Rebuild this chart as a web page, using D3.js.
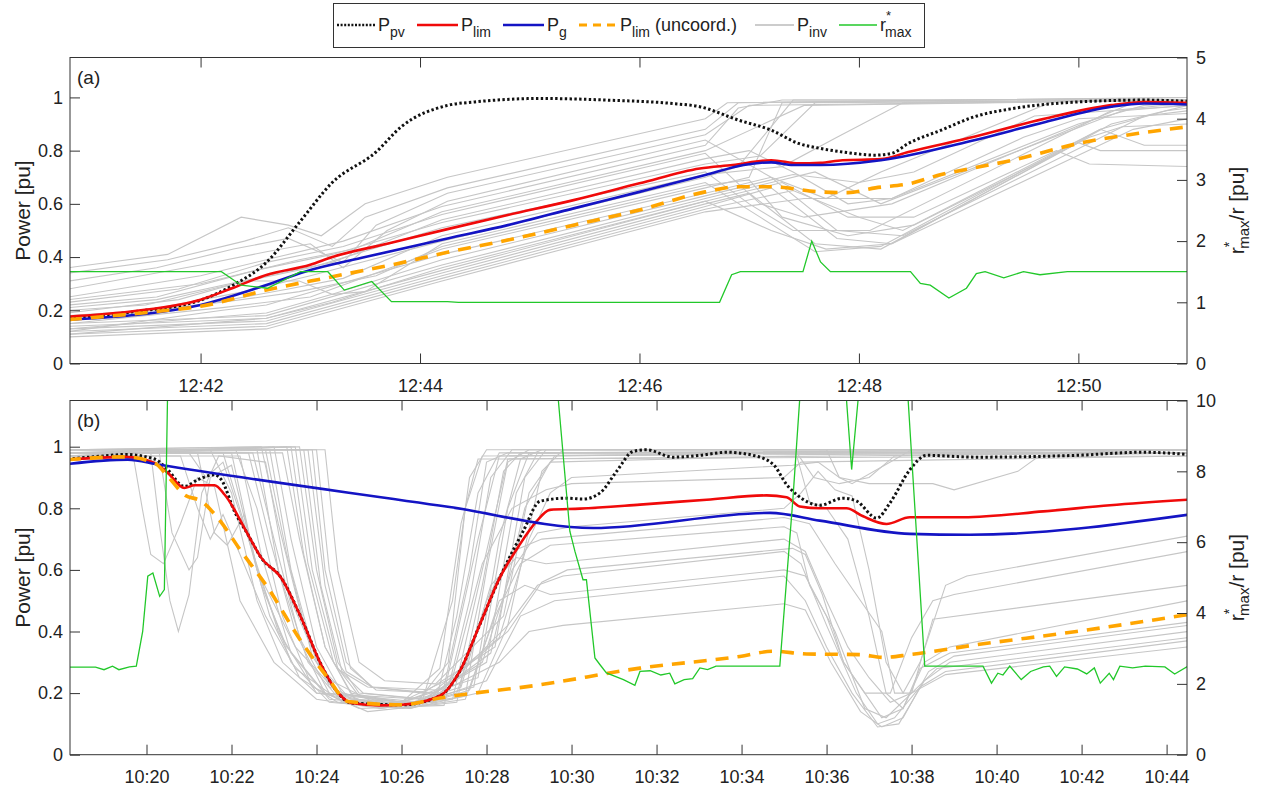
<!DOCTYPE html>
<html>
<head>
<meta charset="utf-8">
<script src="https://cdn.jsdelivr.net/npm/d3@7"></script>
<style>
  body { margin: 0; background: #fff; }
  svg { font-family: "Liberation Sans", Arial, Helvetica, sans-serif; }
</style>
</head>
<body>
<svg id="chart" width="1270" height="787"></svg>
<script>
// times are minutes after the hour: (a) 12:xx, (b) 10:xx

// ---- panel (a) ----
let pvA = [[40.8,0.17],[41.4,0.195],[42.0,0.238],[42.3,0.295],[42.6,0.38],[42.9,0.53],[43.2,0.68],[43.6,0.795],[43.83,0.89],[44.25,0.97],[44.5,0.983],[45.1,0.996],[45.7,0.99],[46.3,0.977],[46.55,0.965],[46.9,0.915],[47.2,0.877],[47.45,0.827],[47.65,0.808],[47.85,0.795],[48.15,0.783],[48.3,0.79],[48.45,0.827],[48.75,0.877],[49.05,0.927],[49.4,0.958],[50.0,0.983],[50.6,0.99],[51.0,0.985]];
let limA = [[40.8,0.176],[41.4,0.197],[42.0,0.24],[42.3,0.285],[42.6,0.333],[43.0,0.371],[43.2,0.40],[43.7,0.45],[44.25,0.505],[44.8,0.558],[45.4,0.614],[46.0,0.677],[46.55,0.733],[46.85,0.746],[47.2,0.764],[47.45,0.752],[47.65,0.754],[47.85,0.764],[48.2,0.768],[48.45,0.795],[49.05,0.852],[49.7,0.921],[50.3,0.971],[50.6,0.983],[51.0,0.98]];
let gA = [[40.8,0.165],[41.4,0.182],[42.0,0.22],[42.6,0.295],[42.95,0.345],[43.5,0.40],[44.25,0.47],[44.8,0.52],[45.4,0.583],[46.0,0.645],[46.6,0.708],[46.95,0.746],[47.2,0.756],[47.4,0.746],[47.65,0.746],[48.2,0.764],[49.05,0.839],[49.7,0.908],[50.3,0.965],[50.6,0.977],[51.0,0.973]];
let uncA = [[40.8,0.165],[41.7,0.2],[42.0,0.215],[42.6,0.276],[43.2,0.326],[43.8,0.376],[44.25,0.418],[44.8,0.464],[45.4,0.52],[46.0,0.577],[46.6,0.645],[46.9,0.664],[47.2,0.664],[47.65,0.645],[47.9,0.642],[48.15,0.66],[48.45,0.675],[48.75,0.71],[49.05,0.735],[49.4,0.764],[50.0,0.827],[50.6,0.868],[51.0,0.89]];
let rA = [[40.8,1.5],[42.19,1.5],[42.37,1.28],[42.61,1.23],[42.91,1.5],[43.16,1.5],[43.31,1.2],[43.56,1.34],[43.74,1.01],[44.25,1.01],[44.35,1.0],[46.73,1.0],[46.84,1.45],[46.92,1.5],[47.49,1.5],[47.57,2.0],[47.65,1.66],[47.74,1.5],[48.47,1.5],[48.56,1.31],[48.65,1.28],[48.82,1.07],[48.98,1.23],[49.07,1.47],[49.15,1.5],[49.32,1.4],[49.5,1.5],[49.65,1.45],[49.9,1.5],[51.0,1.5]];
let invA = [
  [[40.8,0.10],[42.6,0.13],[44.2,0.31],[46.6,0.57],[47.5,0.62],[48.3,0.62],[50.0,0.90],[50.6,0.97],[51,0.98]],
  [[40.8,0.11],[42.6,0.14],[44.2,0.32],[46.6,0.58],[47.4,0.65],[48.0,0.55],[48.4,0.5],[50.2,0.88],[50.8,0.95],[51,0.96]],
  [[40.8,0.12],[42.6,0.15],[44.2,0.33],[46.6,0.59],[47.2,0.66],[47.8,0.47],[48.3,0.45],[50.3,0.9],[51,0.97]],
  [[40.8,0.13],[42.6,0.16],[44.2,0.34],[46.6,0.60],[47.0,0.64],[47.6,0.45],[48.2,0.43],[50.0,0.83],[50.2,0.80],[51,0.80]],
  [[40.8,0.14],[42.6,0.17],[44.2,0.35],[46.6,0.61],[47.3,0.68],[47.9,0.55],[48.5,0.55],[49.8,0.80],[50.1,0.75],[51,0.74]],
  [[40.8,0.15],[42.6,0.18],[44.2,0.37],[46.6,0.62],[47.6,0.72],[48.2,0.6],[50.4,0.95],[51,0.97]],
  [[40.8,0.12],[42.2,0.2],[42.6,0.22],[44.2,0.41],[46.6,0.64],[47.2,0.7],[47.8,0.5],[48.4,0.48],[50.6,0.93],[51,0.95]],
  [[40.8,0.15],[42.2,0.21],[43.0,0.25],[44.2,0.43],[46.6,0.66],[47.0,0.70],[47.3,0.98],[51,0.99]],
  [[40.8,0.18],[41.5,0.2],[42.4,0.27],[43.0,0.33],[44.2,0.46],[46.6,0.70],[46.9,0.74],[47.4,0.99],[51,0.99]],
  [[40.8,0.2],[41.5,0.22],[42.3,0.3],[43.0,0.36],[44.2,0.51],[46.6,0.72],[47.0,0.6],[47.4,0.5],[48.1,0.5],[50.3,0.95],[51,0.98]],
  [[40.8,0.22],[41.6,0.25],[42.5,0.35],[43.2,0.41],[44.2,0.53],[46.6,0.75],[47.1,0.78],[47.6,0.98],[51,0.99]],
  [[40.8,0.23],[41.8,0.28],[42.6,0.38],[43.3,0.44],[44.2,0.56],[46.6,0.79],[47.1,0.60],[47.5,0.55],[48.3,0.6],[50.5,0.98],[51,0.99]],
  [[40.8,0.25],[42.0,0.33],[42.7,0.40],[43.3,0.46],[44.2,0.59],[46.6,0.82],[46.9,0.96],[47.3,0.99],[51,0.99]],
  [[40.8,0.28],[42.0,0.37],[42.6,0.42],[43.0,0.45],[43.3,0.36],[43.7,0.5],[44.25,0.61],[46.6,0.84],[47.2,0.70],[47.7,0.62],[48.2,0.72],[49.8,0.99],[51,0.99]],
  [[40.8,0.31],[41.6,0.36],[42.3,0.43],[42.8,0.47],[43.3,0.38],[43.6,0.52],[44.25,0.64],[46.6,0.86],[47.0,0.97],[51,0.99]],
  [[40.8,0.34],[41.7,0.39],[42.4,0.46],[42.8,0.51],[43.2,0.44],[43.5,0.55],[44.25,0.66],[46.6,0.88],[46.9,0.98],[51,1.0]],
  [[40.8,0.36],[41.7,0.41],[42.37,0.55],[42.8,0.52],[43.1,0.48],[43.5,0.60],[44.25,0.70],[46.6,0.92],[46.8,0.98],[51,1.0]],
  [[40.8,0.19],[41.8,0.24],[42.4,0.31],[42.9,0.31],[43.2,0.26],[43.5,0.27],[44.2,0.45],[46.6,0.68],[47.1,0.55],[47.6,0.42],[48.2,0.44],[50.2,0.88],[50.6,0.82],[51,0.82]],
  [[40.8,0.16],[42.0,0.22],[42.8,0.28],[43.3,0.32],[44.2,0.48],[46.6,0.71],[47.3,0.74],[47.8,0.85],[48.4,0.98],[51,0.99]],
  [[40.8,0.21],[41.6,0.24],[42.6,0.33],[43.2,0.38],[44.2,0.54],[46.6,0.77],[47.0,0.8],[47.4,0.72],[47.9,0.6],[48.3,0.62],[49.5,0.85],[50.0,0.92],[51,0.94]],
  [[40.8,0.24],[42.0,0.30],[42.9,0.39],[43.4,0.43],[44.2,0.57],[46.6,0.80],[47.5,0.97],[51,0.99]],
  [[40.8,0.17],[42.2,0.23],[42.9,0.27],[43.6,0.33],[44.2,0.44],[46.6,0.67],[47.0,0.69],[47.3,0.55],[47.9,0.48],[48.5,0.52],[50.1,0.85],[50.4,0.89],[51,0.90]],
  [[40.8,0.13],[42.6,0.19],[43.2,0.26],[44.2,0.39],[46.6,0.63],[47.4,0.71],[48.0,0.68],[48.5,0.72],[49.6,0.93],[51,0.97]],
  [[40.8,0.11],[42.6,0.17],[43.2,0.23],[44.2,0.36],[46.6,0.61],[47.2,0.5],[47.7,0.43],[48.3,0.45],[50.5,0.88],[51,0.92]]
];

// ---- panel (b) ----
let pvB = [[18.15,0.96],[19.0,0.97],[19.5,0.975],[20.19,0.96],[20.5,0.925],[20.89,0.871],[21.21,0.893],[21.6,0.909],[21.76,0.893],[22.07,0.79],[22.39,0.714],[22.7,0.639],[23.17,0.574],[23.64,0.444],[24.11,0.292],[24.42,0.217],[24.82,0.168],[26.0,0.162],[26.78,0.184],[27.0,0.2],[27.37,0.271],[27.84,0.422],[28.31,0.574],[28.86,0.725],[29.26,0.823],[29.88,0.833],[30.27,0.83],[30.67,0.85],[31.06,0.92],[31.45,0.985],[31.76,0.99],[32.39,0.966],[33.02,0.972],[33.65,0.982],[34.27,0.972],[34.75,0.942],[35.06,0.877],[35.3,0.844],[35.84,0.81],[36.39,0.833],[36.71,0.823],[37.18,0.768],[37.49,0.817],[37.96,0.925],[38.35,0.972],[39.53,0.966],[41.88,0.972],[43.45,0.982],[44.5,0.975]];
let limB = [[18.15,0.958],[19.48,0.967],[20.19,0.947],[20.5,0.915],[20.89,0.866],[21.13,0.875],[21.6,0.875],[21.84,0.844],[22.39,0.714],[22.7,0.639],[23.17,0.574],[23.64,0.444],[24.11,0.292],[24.42,0.217],[24.82,0.168],[25.5,0.16],[26.0,0.162],[26.78,0.184],[27.0,0.2],[27.37,0.271],[27.84,0.422],[28.31,0.574],[28.78,0.682],[29.18,0.758],[29.49,0.795],[30.2,0.799],[31.61,0.812],[33.18,0.828],[34.59,0.842],[35.06,0.836],[35.37,0.806],[35.84,0.8],[36.47,0.8],[36.86,0.774],[37.41,0.749],[37.96,0.771],[39.22,0.771],[41.1,0.79],[42.67,0.81],[44.5,0.828]];
let gB = [[18.15,0.944],[19.56,0.958],[20.27,0.942],[27.09,0.805],[30.51,0.736],[34.67,0.785],[35.84,0.76],[37.96,0.717],[39.37,0.714],[44.5,0.779]];
let uncB = [[18.15,0.958],[19.48,0.967],[20.19,0.947],[20.5,0.904],[20.89,0.844],[21.29,0.823],[21.68,0.768],[22.23,0.66],[22.86,0.541],[23.64,0.368],[24.27,0.249],[24.74,0.173],[26.0,0.162],[26.9,0.184],[29.26,0.227],[31.61,0.281],[33.96,0.319],[34.75,0.336],[35.53,0.327],[36.78,0.325],[37.33,0.316],[37.96,0.325],[39.53,0.357],[41.88,0.4],[44.5,0.455]];
let rB = [[18.15,2.47],[18.8,2.47],[19.0,2.4],[19.2,2.5],[19.35,2.4],[19.6,2.48],[19.76,2.5],[19.91,3.48],[20.03,5.04],[20.15,5.13],[20.31,4.47],[20.42,4.66],[20.5,10.5],[20.6,14],[29.5,14],[29.69,10],[29.96,6.31],[30.08,5.74],[30.27,4.94],[30.35,4.94],[30.55,2.73],[30.67,2.54],[30.82,2.31],[31.22,2.12],[31.49,1.96],[31.61,2.35],[31.85,2.37],[32.1,2.25],[32.31,2.3],[32.43,2.0],[32.65,2.12],[32.85,2.15],[33.02,2.45],[33.2,2.4],[33.4,2.5],[34.9,2.5],[35.21,7.25],[35.37,10.07],[35.5,14],[36.3,14],[36.47,10],[36.59,8.05],[36.74,10],[36.9,14],[37.7,14],[37.92,10],[38.31,2.5],[39.68,2.5],[39.88,2.02],[40.03,2.3],[40.15,2.25],[40.31,2.5],[40.58,2.12],[40.8,2.35],[41.1,2.48],[41.25,2.5],[41.41,2.21],[41.6,2.48],[41.9,2.42],[42.12,2.28],[42.3,2.45],[42.44,2.02],[42.65,2.3],[42.75,2.12],[42.9,2.5],[43.2,2.45],[43.5,2.5],[43.96,2.48],[44.19,2.28],[44.5,2.5]];
let invB = [
  [[18.15,0.97],[20.3,0.98],[20.6,0.72],[21.0,0.6],[21.2,0.64],[21.5,0.9],[22.0,0.94],[22.6,0.6],[23.5,0.35],[24.5,0.2],[26.0,0.17],[27.0,0.22],[27.6,0.6],[28.0,0.95],[28.5,0.98],[44.5,0.98]],
  [[18.15,0.98],[20.1,0.98],[20.3,0.75],[20.55,0.5],[20.75,0.4],[21.0,0.52],[21.3,0.85],[21.7,0.97],[22.8,0.95],[23.4,0.5],[24.2,0.25],[25.5,0.16],[27.0,0.2],[27.8,0.7],[28.3,0.97],[44.5,0.99]],
  [[18.15,0.96],[19.7,0.96],[19.9,0.8],[20.1,0.65],[20.4,0.62],[20.8,0.75],[21.2,0.9],[21.6,0.87],[22.2,0.5],[23.0,0.3],[24.0,0.18],[25.5,0.15],[27.2,0.18],[27.9,0.6],[28.5,0.96],[44.5,0.98]],
  [[18.15,0.99],[21.5,0.99],[22.0,0.85],[22.6,0.5],[23.2,0.3],[24.0,0.2],[26.5,0.18],[27.2,0.5],[27.6,0.9],[28.0,0.99],[44.5,0.99]],
  [[18.15,0.98],[21.8,0.98],[22.3,0.75],[22.9,0.45],[23.6,0.25],[24.5,0.17],[26.8,0.17],[27.3,0.45],[27.8,0.85],[28.3,0.98],[44.5,0.98]],
  [[18.15,0.99],[22.1,0.99],[22.6,0.8],[23.2,0.45],[23.9,0.22],[25.0,0.15],[27.0,0.16],[27.6,0.5],[28.1,0.9],[28.6,0.99],[44.5,0.99]],
  [[18.15,0.98],[22.4,0.98],[22.9,0.7],[23.5,0.4],[24.2,0.2],[25.2,0.14],[27.3,0.17],[27.9,0.55],[28.4,0.92],[28.8,0.98],[44.5,0.99]],
  [[18.15,0.99],[22.7,1.0],[23.1,0.75],[23.7,0.42],[24.3,0.22],[25.5,0.15],[27.5,0.19],[28.0,0.6],[28.5,0.95],[29.0,0.99],[44.5,0.99]],
  [[18.15,0.97],[23.0,1.0],[23.4,0.7],[24.0,0.35],[24.6,0.2],[26.0,0.16],[27.7,0.22],[28.3,0.7],[28.8,0.96],[29.3,0.99],[44.5,0.99]],
  [[18.15,0.99],[23.3,1.0],[23.7,0.65],[24.2,0.35],[24.8,0.2],[26.0,0.17],[27.8,0.25],[28.5,0.8],[29.0,0.98],[44.5,0.99]],
  [[18.15,0.98],[23.6,1.0],[24.0,0.6],[24.5,0.3],[25.0,0.2],[26.5,0.18],[28.0,0.3],[28.7,0.85],[29.2,0.98],[44.5,0.98]],
  [[18.15,0.99],[23.9,0.99],[24.2,0.6],[24.7,0.3],[25.3,0.22],[26.5,0.2],[28.2,0.35],[28.9,0.9],[29.4,0.99],[44.5,0.99]],
  [[18.15,0.97],[20.8,0.97],[21.2,0.8],[21.5,0.7],[21.8,0.78],[22.2,0.65],[22.8,0.45],[23.5,0.28],[24.5,0.18],[26.3,0.16],[27.1,0.3],[27.5,0.8],[27.9,0.97],[44.5,0.98]],
  [[18.15,0.98],[21.2,0.98],[21.6,0.72],[21.9,0.68],[22.3,0.78],[22.7,0.55],[23.3,0.35],[24.2,0.2],[26.0,0.17],[26.9,0.28],[27.4,0.75],[27.8,0.96],[44.5,0.97]],
  [[18.15,0.98],[22.5,0.98],[23.0,0.7],[23.6,0.38],[24.3,0.2],[26.0,0.15],[27.5,0.18],[28.2,0.45],[28.8,0.62],[29.5,0.68],[35.0,0.74],[35.3,0.72],[35.6,0.55],[36.2,0.4],[36.9,0.15],[37.4,0.12],[38.0,0.2],[38.8,0.26],[44.5,0.35]],
  [[18.15,0.99],[22.8,0.99],[23.3,0.65],[23.9,0.32],[24.6,0.17],[26.2,0.15],[27.8,0.2],[28.5,0.42],[29.2,0.55],[29.8,0.58],[35.0,0.66],[35.4,0.62],[36.0,0.42],[36.7,0.2],[37.2,0.1],[37.6,0.12],[38.2,0.22],[38.8,0.27],[44.5,0.37]],
  [[18.15,0.98],[23.2,0.98],[23.6,0.7],[24.2,0.35],[24.9,0.18],[26.3,0.16],[28.0,0.24],[28.8,0.45],[29.6,0.5],[35.0,0.58],[35.5,0.5],[36.0,0.35],[36.6,0.2],[37.2,0.09],[37.7,0.1],[38.3,0.24],[38.9,0.3],[44.5,0.4]],
  [[18.15,0.97],[23.5,1.0],[23.9,0.6],[24.5,0.28],[25.1,0.2],[26.6,0.18],[28.3,0.3],[29.0,0.4],[29.8,0.42],[35.0,0.49],[35.5,0.47],[36.1,0.3],[36.8,0.14],[37.3,0.09],[37.8,0.12],[38.4,0.27],[39.0,0.32],[44.5,0.42]],
  [[18.15,0.99],[23.7,0.99],[24.1,0.55],[24.6,0.27],[25.2,0.22],[26.8,0.2],[28.5,0.4],[29.3,0.56],[29.9,0.6],[35.2,0.67],[35.5,0.65],[35.9,0.52],[36.4,0.3],[36.9,0.2],[37.5,0.2],[38.0,0.38],[38.5,0.5],[39.0,0.52],[44.5,0.66]],
  [[18.15,0.98],[22.0,0.98],[22.6,0.6],[23.4,0.3],[24.3,0.17],[26.0,0.15],[27.3,0.2],[28.0,0.5],[28.6,0.66],[29.3,0.7],[35.0,0.77],[35.6,0.75],[36.2,0.62],[36.8,0.5],[37.3,0.4],[37.6,0.2],[38.0,0.2],[38.5,0.44],[44.5,0.55]],
  [[18.15,0.99],[24.2,0.99],[24.5,0.6],[25.0,0.3],[25.6,0.24],[26.8,0.23],[28.4,0.45],[29.0,0.85],[29.6,0.97],[35.3,0.98],[35.7,0.9],[36.3,0.88],[37.0,0.9],[37.6,0.97],[44.5,0.99]],
  [[18.15,0.98],[21.0,0.98],[21.4,0.9],[21.8,0.95],[22.4,0.7],[23.1,0.4],[24.0,0.2],[25.8,0.16],[27.2,0.25],[27.9,0.62],[28.6,0.8],[29.4,0.86],[30.0,0.88],[35.0,0.9],[35.4,0.95],[44.5,0.97]],
  [[18.15,0.99],[22.9,0.99],[23.4,0.6],[24.0,0.3],[24.8,0.18],[26.4,0.17],[27.9,0.3],[28.6,0.6],[29.2,0.72],[30.0,0.74],[35.0,0.8],[35.4,0.85],[35.8,0.92],[36.2,0.86],[36.6,0.84],[37.0,0.6],[37.4,0.3],[37.8,0.2],[38.2,0.3],[38.8,0.55],[39.3,0.58],[44.5,0.71]],
  [[18.15,0.98],[23.4,1.0],[23.8,0.62],[24.4,0.3],[25.0,0.19],[26.5,0.17],[28.1,0.33],[28.9,0.8],[29.5,0.95],[35.3,0.97],[35.6,0.82],[36.0,0.8],[36.5,0.7],[37.0,0.45],[37.4,0.2],[37.8,0.15],[38.3,0.3],[38.9,0.35],[44.5,0.5]],
  [[18.15,0.99],[24.0,0.99],[24.3,0.6],[24.8,0.28],[25.4,0.21],[26.9,0.2],[28.5,0.42],[29.3,0.92],[29.8,0.99],[36.0,0.99],[36.3,0.9],[36.6,0.88],[37.5,0.95],[38.0,0.99],[44.5,0.99]],
  [[18.15,0.97],[22.2,0.97],[22.7,0.65],[23.4,0.33],[24.3,0.18],[26.0,0.16],[27.4,0.22],[28.1,0.55],[28.7,0.64],[29.4,0.62],[35.0,0.7],[35.5,0.66],[36.0,0.5],[36.5,0.35],[37.0,0.25],[37.5,0.17],[38.0,0.2],[38.6,0.28],[44.5,0.38]],
  [[18.15,0.98],[23.8,0.99],[24.2,0.55],[24.7,0.27],[25.3,0.22],[26.8,0.21],[28.3,0.38],[29.0,0.7],[29.5,0.85],[30.0,0.9],[35.2,0.94],[35.8,0.95],[36.3,0.9],[37.0,0.88],[38.5,0.88],[39.0,0.86],[40.5,0.92],[41.0,0.97],[44.5,0.98]],
  [[18.15,0.99],[22.6,0.99],[23.1,0.6],[23.8,0.3],[24.6,0.17],[26.2,0.15],[27.6,0.21],[28.3,0.5],[28.9,0.55],[29.5,0.52],[35.0,0.6],[35.5,0.58],[36.0,0.45],[36.4,0.3],[36.9,0.2],[37.3,0.12],[37.8,0.15],[38.2,0.28],[38.9,0.33],[44.5,0.43]]
];

let ticksA = [42, 44, 46, 48, 50];
let ticksB = [20, 22, 24, 26, 28, 30, 32, 34, 36, 38, 40, 42, 44];
let powerTicks = [0, 0.2, 0.4, 0.6, 0.8, 1];

let colPv = "#111", colLim = "#f00a0a", colG = "#1414c4", colUnc = "#ffa500", colInv = "#c6c6c6", colR = "#22c82a";
let font = "'Liberation Sans', Arial, Helvetica, sans-serif";

let svg = d3.select("#chart");
let left = 70, right = 1187;

let panels = [
    {name: "a", top: 57.5, bottom: 363.5, xDom: [40.81, 50.99], rMax: 5, hour: 12, ticks: ticksA,
     pv: pvA, lim: limA, g: gA, unc: uncA, r: rA, inv: invA},
    {name: "b", top: 400.5, bottom: 754.7, xDom: [18.2, 44.48], rMax: 10, hour: 10, ticks: ticksB,
     pv: pvB, lim: limB, g: gB, unc: uncB, r: rB, inv: invB}
];

panels.forEach(function(p) {
    let x = d3.scaleLinear().domain(p.xDom).range([left, right]);
    let yL = d3.scaleLinear().domain([0, 1.15]).range([p.bottom, p.top]);
    let yR = d3.scaleLinear().domain([0, p.rMax]).range([p.bottom, p.top]);

    svg.append("clipPath").attr("id", "clip" + p.name)
        .append("rect")
        .attr("x", left).attr("y", p.top)
        .attr("width", right - left).attr("height", p.bottom - p.top);

    let lineL = d3.line().x(d => x(d[0])).y(d => yL(d[1]));
    let smoothL = d3.line().x(d => x(d[0])).y(d => yL(d[1])).curve(d3.curveMonotoneX);
    let lineR = d3.line().x(d => x(d[0])).y(d => yR(d[1]));

    let g = svg.append("g").attr("clip-path", "url(#clip" + p.name + ")");

    g.selectAll("path.inv")
        .data(p.inv)
        .join("path")
        .attr("class", "inv")
        .attr("d", lineL)
        .attr("fill", "none")
        .attr("stroke", colInv)
        .attr("stroke-width", 1.1);

    g.append("path").datum(p.pv).attr("d", smoothL)
        .attr("fill", "none").attr("stroke", colPv)
        .attr("stroke-width", 3).attr("stroke-dasharray", "2.4 2.4");

    g.append("path").datum(p.lim).attr("d", smoothL)
        .attr("fill", "none").attr("stroke", colLim).attr("stroke-width", 2.6);

    g.append("path").datum(p.g).attr("d", smoothL)
        .attr("fill", "none").attr("stroke", colG).attr("stroke-width", 2.6);

    g.append("path").datum(p.unc).attr("d", smoothL)
        .attr("fill", "none").attr("stroke", colUnc)
        .attr("stroke-width", 3.6).attr("stroke-dasharray", "13 9");

    g.append("path").datum(p.r).attr("d", lineR)
        .attr("fill", "none").attr("stroke", colR).attr("stroke-width", 1.3);

    // axes (MATLAB style: ticks inside, box all round)
    let fmt = m => p.hour + ":" + String(m).padStart(2, "0");

    let axB = svg.append("g").attr("transform", "translate(0," + p.bottom + ")")
        .call(d3.axisBottom(x).tickValues(p.ticks).tickSize(-10).tickPadding(16).tickFormat(fmt));
    let axT = svg.append("g").attr("transform", "translate(0," + p.top + ")")
        .call(d3.axisTop(x).tickValues(p.ticks).tickSize(-10).tickFormat(""));
    let axL = svg.append("g").attr("transform", "translate(" + left + ",0)")
        .call(d3.axisLeft(yL).tickValues(powerTicks).tickSize(-10).tickPadding(7).tickFormat(d => String(d)));
    let axR = svg.append("g").attr("transform", "translate(" + right + ",0)")
        .call(d3.axisRight(yR).tickValues(d3.range(0, p.rMax + 0.01, p.rMax / 5))
            .tickSize(-10).tickPadding(9).tickFormat(d3.format("d")));

    [axB, axT, axL, axR].forEach(function(a) {
        a.select(".domain").remove();
        a.attr("font-family", font).attr("font-size", 18);
        a.selectAll("line").attr("stroke", "#333");
        a.selectAll("text").attr("fill", "#222");
    });

    svg.append("rect")
        .attr("x", left).attr("y", p.top)
        .attr("width", right - left).attr("height", p.bottom - p.top)
        .attr("fill", "none").attr("stroke", "#333").attr("stroke-width", 1);

    svg.append("text")
        .attr("x", 77).attr("y", p.top + 26)
        .attr("font-size", 19).attr("fill", "#222")
        .text("(" + p.name + ")");

    let mid = (p.top + p.bottom) / 2;
    svg.append("text")
        .attr("transform", "translate(30," + mid + ") rotate(-90)")
        .attr("text-anchor", "middle").attr("font-size", 21).attr("fill", "#222")
        .text("Power [pu]");

    let rl = svg.append("text")
        .attr("transform", "translate(1244," + mid + ") rotate(-90)")
        .attr("text-anchor", "middle").attr("font-size", 21).attr("fill", "#222");
    rl.append("tspan").text("r");
    rl.append("tspan").attr("font-size", 14).attr("dy", -10).text("*");
    rl.append("tspan").attr("font-size", 15).attr("dx", -7).attr("dy", 15).text("max");
    rl.append("tspan").attr("dy", -5).text("/r [pu]");
});

// legend
let legend = svg.append("g").attr("font-size", 18).attr("fill", "#222");
legend.append("rect")
    .attr("x", 333.5).attr("y", 3.5).attr("width", 591).attr("height", 44)
    .attr("fill", "#fff").attr("stroke", "#333").attr("stroke-width", 1);

let legendItems = [
    {x1: 337, x2: 375, color: colPv, width: 2.4, dash: "2 1.6", main: "P", sub: "pv", rest: ""},
    {x1: 417, x2: 458, color: colLim, width: 2.6, dash: null, main: "P", sub: "lim", rest: ""},
    {x1: 503, x2: 544, color: colG, width: 2.6, dash: null, main: "P", sub: "g", rest: ""},
    {x1: 579, x2: 617, color: colUnc, width: 3, dash: "8 6", main: "P", sub: "lim", rest: " (uncoord.)"},
    {x1: 755, x2: 794, color: "#999", width: 1, dash: null, main: "P", sub: "inv", rest: ""},
    {x1: 839, x2: 877, color: colR, width: 1.3, dash: null, main: "r", sup: "*", sub: "max", rest: ""}
];

legendItems.forEach(function(it) {
    legend.append("line")
        .attr("x1", it.x1).attr("x2", it.x2).attr("y1", 25).attr("y2", 25)
        .attr("stroke", it.color).attr("stroke-width", it.width)
        .attr("stroke-dasharray", it.dash);
    let t = legend.append("text").attr("x", it.x2 + 3).attr("y", 31);
    t.append("tspan").text(it.main);
    if (it.sup) {
        t.append("tspan").attr("font-size", 13).attr("dy", -11).text(it.sup);
        t.append("tspan").attr("font-size", 14).attr("dx", -6).attr("dy", 17).text(it.sub);
    } else {
        t.append("tspan").attr("font-size", 14).attr("dy", 6).text(it.sub);
        if (it.rest) t.append("tspan").attr("dy", -6).text(it.rest);
    }
});
</script>
</body>
</html>
